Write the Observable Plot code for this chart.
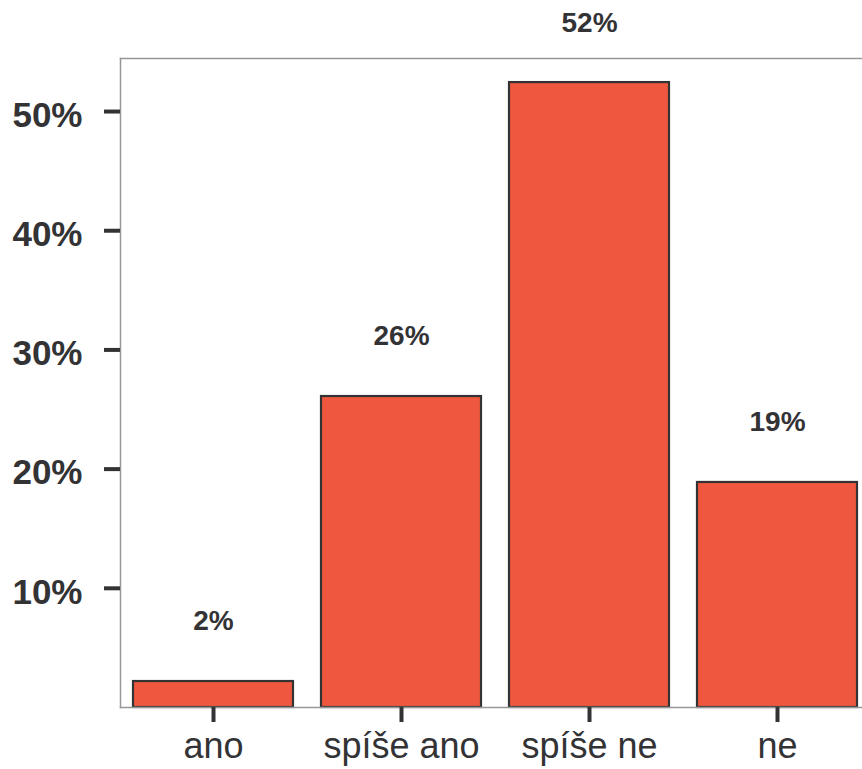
<!DOCTYPE html>
<html>
<head>
<meta charset="utf-8">
<script src="https://cdn.jsdelivr.net/npm/d3@7"></script>
<script src="https://cdn.jsdelivr.net/npm/@observablehq/plot@0.6"></script>
<style>
  html, body { margin: 0; padding: 0; background: #fff; overflow: hidden; }
</style>
</head>
<body>
<div id="chart"></div>
<script>
const categories = ["ano", "spíše ano", "spíše ne", "ne"];
const values = [2.18, 26.09, 52.43, 18.88];
const valueLabels = ["2%", "26%", "52%", "19%"];
const yTicks = [10, 20, 30, 40, 50];
const yMax = 54.45;

const data = categories.map((c, i) => ({category: c, value: values[i], label: valueLabels[i]}));

const ink = "#333336";
const chart = Plot.plot({
  width: 862,
  height: 769,
  marginTop: 58,
  marginBottom: 62,
  marginLeft: 120,
  marginRight: 0,
  style: {fontFamily: "'Liberation Sans', Arial, Helvetica, sans-serif", background: "#fff"},
  x: {domain: categories, range: [120, 870], paddingInner: 0.149, paddingOuter: 0.069},
  y: {domain: [0, yMax]},
  marks: [
    Plot.barY(data, {x: "category", y: "value", fill: "#ef583e", stroke: ink, strokeWidth: 2.2, inset: 0}),
    Plot.frame({anchor: "left", stroke: "#9a9696", strokeWidth: 1.5}),
    Plot.frame({anchor: "top", stroke: "#9a9696", strokeWidth: 1.5}),
    Plot.frame({anchor: "bottom", stroke: "#9a9696", strokeWidth: 1.5}),
    Plot.text(data, {x: "category", y: "value", text: "label", dy: -60, fontSize: 28, fontWeight: "bold", fill: ink}),
    Plot.axisY({ticks: yTicks, tickFormat: () => "", tickSize: 16, strokeWidth: 4, stroke: ink, label: null}),
    Plot.axisY({ticks: yTicks, tickFormat: d => d + "%", tickSize: 0, tickPadding: 38, stroke: "none", fill: ink, fontSize: 35, fontWeight: "bold", dy: 4, label: null}),
    Plot.axisX({tickSize: 15, tickPadding: 10, strokeWidth: 4, stroke: ink, fill: ink, fontSize: 36, label: null})
  ]
});
document.getElementById("chart").appendChild(chart);
</script>
</body>
</html>
